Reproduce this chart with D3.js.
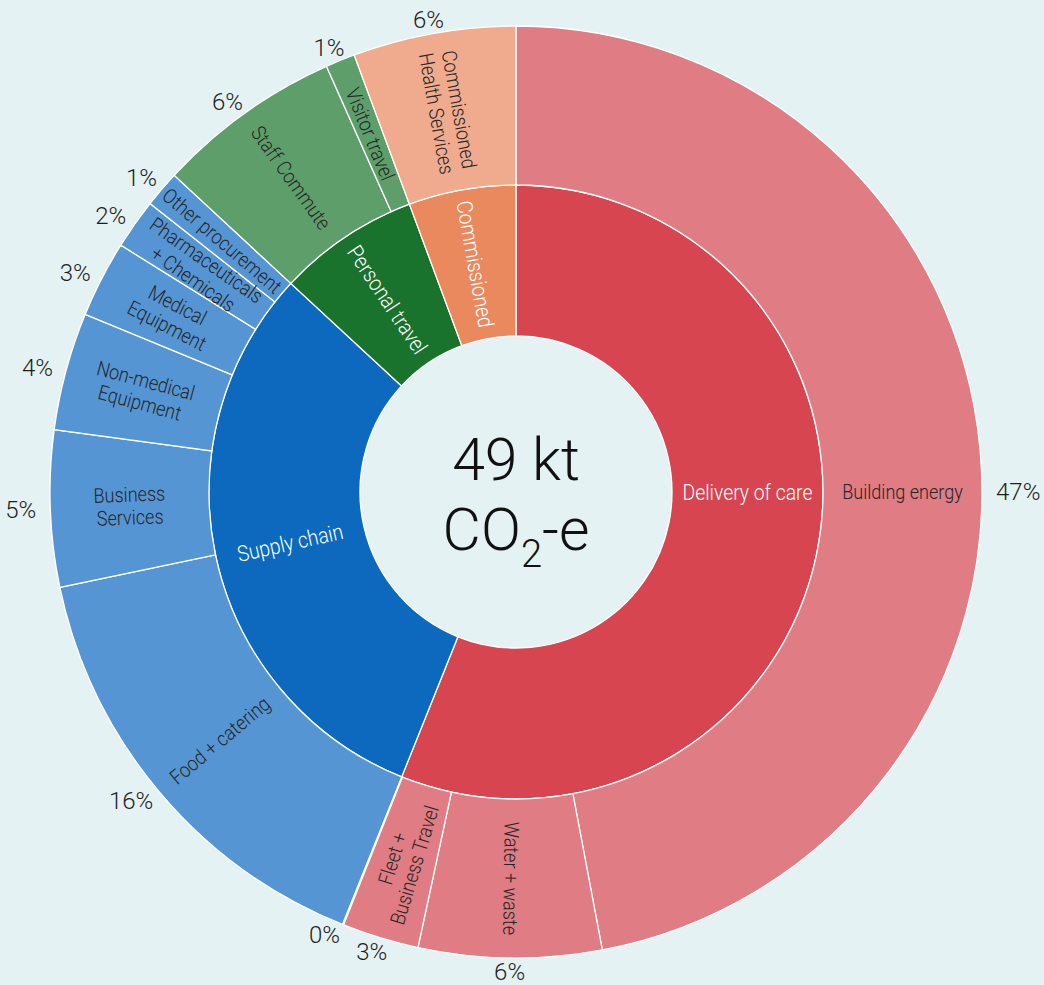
<!DOCTYPE html>
<html>
<head>
<meta charset="utf-8">
<script src="https://cdn.jsdelivr.net/npm/d3@7"></script>
<style>
  html, body { margin: 0; padding: 0; background: #e5f2f3; }
  svg { display: block; }
  .lbl { font-family: "Roboto", "Liberation Sans", sans-serif; font-weight: 300; }
  .pct { font-family: "Roboto", "Liberation Sans", sans-serif; font-weight: 300; }
  .centre { font-family: "Roboto", "Liberation Sans", sans-serif; font-weight: 300; }
</style>
</head>
<body>
<div id="chart"></div>
<script>
// emissions by source, kt CO2-e
const groups = ["Delivery of care", "Supply chain", "Personal travel", "Commissioned"];
const categories = [
  "Building energy", "Water + waste", "Fleet +\nBusiness Travel", "Other care",
  "Food + catering", "Business\nServices", "Non-medical\nEquipment", "Medical\nEquipment",
  "Pharmaceuticals\n+ Chemicals", "Other procurement",
  "Staff Commute", "Visitor travel",
  "Commissioned\nHealth Services"
];
const categoryGroup = [
  "Delivery of care", "Delivery of care", "Delivery of care", "Delivery of care",
  "Supply chain", "Supply chain", "Supply chain", "Supply chain",
  "Supply chain", "Supply chain",
  "Personal travel", "Personal travel",
  "Commissioned"
];
const values = [23.0, 3.1, 1.3, 0.02, 7.65, 2.65, 2.0, 1.3, 0.85, 0.62, 3.15, 0.5, 2.76];

const innerColors = ["#d64550", "#0c69be", "#1a732d", "#ea895e"];
const outerColors = ["#e07c84", "#5595d3", "#5e9e6b", "#f0ab8e"];

const W = 1044, H = 985;
const cx = 516, cy = 492;
const rHole = 156, rMid = 307, rOut = 466, rPct = 480;
const squeeze = 0.88; // condensed look for slice labels

const svg = d3.select("#chart").append("svg")
  .attr("width", W)
  .attr("height", H);

svg.append("rect").attr("width", W).attr("height", H).attr("fill", "#e5f2f3");

const g = svg.append("g").attr("transform", `translate(${cx},${cy})`);

const outerData = categories.map((c, i) => ({ name: c, group: categoryGroup[i], value: values[i] }));
const groupData = groups.map(gr => ({
  name: gr,
  value: d3.sum(outerData.filter(d => d.group === gr), d => d.value)
}));
const total = d3.sum(values);

const pie = d3.pie().sort(null).value(d => d.value);
const outerArcs = pie(outerData);
const innerArcs = pie(groupData);

const colorInner = d3.scaleOrdinal().domain(groups).range(innerColors);
const colorOuter = d3.scaleOrdinal().domain(groups).range(outerColors);

const arcInner = d3.arc().innerRadius(rHole).outerRadius(rMid);
const arcOuter = d3.arc().innerRadius(rMid).outerRadius(rOut);

g.selectAll("path.inner")
  .data(innerArcs)
  .join("path")
  .attr("class", "inner")
  .attr("d", arcInner)
  .attr("fill", d => colorInner(d.data.name))
  .attr("stroke", "#fff")
  .attr("stroke-width", 1.3);

g.selectAll("path.outer")
  .data(outerArcs.filter(d => d.data.value / total >= 0.005))
  .join("path")
  .attr("class", "outer")
  .attr("d", arcOuter)
  .attr("fill", d => colorOuter(d.data.group))
  .attr("stroke", "#fff")
  .attr("stroke-width", 1.3);

// big slices crossing 3 o'clock get a flat label there
function labelAngle(d) {
  const span = d.endAngle - d.startAngle;
  if (span > Math.PI * 0.8 && d.startAngle < Math.PI / 2 && d.endAngle > Math.PI / 2) return Math.PI / 2;
  return (d.startAngle + d.endAngle) / 2;
}
function place(a, r, turn) {
  const deg = a * 180 / Math.PI;
  const rot = !turn ? 0 : (deg < 185 ? deg - 90 : deg - 270);
  let t = `translate(${r * Math.sin(a)},${-r * Math.cos(a)}) rotate(${rot})`;
  if (turn) t += ` scale(${squeeze},1)`;
  return t;
}
function addLines(sel, lh) {
  sel.each(function(d) {
    const lines = d.data.name.split("\n");
    const t = d3.select(this);
    lines.forEach((l, i) => {
      t.append("tspan")
        .attr("x", 0)
        .attr("y", (i - (lines.length - 1) / 2) * lh)
        .attr("dy", "0.35em")
        .text(l);
    });
  });
}

g.selectAll("text.inner-lbl")
  .data(innerArcs)
  .join("text")
  .attr("class", "lbl inner-lbl")
  .attr("transform", d => place(labelAngle(d), (rHole + rMid) / 2, true))
  .attr("text-anchor", "middle")
  .attr("font-size", 22)
  .attr("fill", "#fff")
  .call(addLines, 24);

g.selectAll("text.outer-lbl")
  .data(outerArcs.filter(d => d.data.value / total >= 0.005))
  .join("text")
  .attr("class", "lbl outer-lbl")
  .attr("transform", d => place(labelAngle(d), (rMid + rOut) / 2, true))
  .attr("text-anchor", "middle")
  .attr("font-size", 20.5)
  .attr("fill", "#262626")
  .call(addLines, 23);

// percentage labels outside, pushed apart when they crowd
const minGap = 5.8 * Math.PI / 180;
let prev = -Infinity;
const pctPos = outerArcs.map(d => {
  let a = labelAngle(d);
  if (a - prev < minGap) a = prev + minGap;
  prev = a;
  return { a, txt: Math.round(d.data.value / total * 100) + "%" };
});

const pctText = g.selectAll("text.pct")
  .data(pctPos)
  .join("text")
  .attr("class", "pct")
  .attr("text-anchor", "middle")
  .attr("dy", "0.35em")
  .attr("font-size", 24)
  .attr("fill", "#1e1e1e")
  .text(d => d.txt);

// shift sideways by half the width so labels sit just outside the ring
pctText.attr("transform", function(d) {
  const half = this.getComputedTextLength() / 2;
  const x = rPct * Math.sin(d.a) + half * Math.sin(d.a);
  const y = -rPct * Math.cos(d.a);
  return `translate(${x},${y})`;
});

// centre total
g.append("text")
  .attr("class", "centre")
  .attr("text-anchor", "middle")
  .attr("y", -12)
  .attr("font-size", 59)
  .attr("fill", "#111")
  .text(Math.round(total) + " kt");

const co2 = g.append("text")
  .attr("class", "centre")
  .attr("text-anchor", "middle")
  .attr("y", 58)
  .attr("font-size", 59)
  .attr("fill", "#111");
co2.append("tspan").text("CO");
co2.append("tspan").attr("font-size", 38).attr("dy", 17).text("2");
co2.append("tspan").attr("dy", -17).text("-e");
</script>
</body>
</html>
